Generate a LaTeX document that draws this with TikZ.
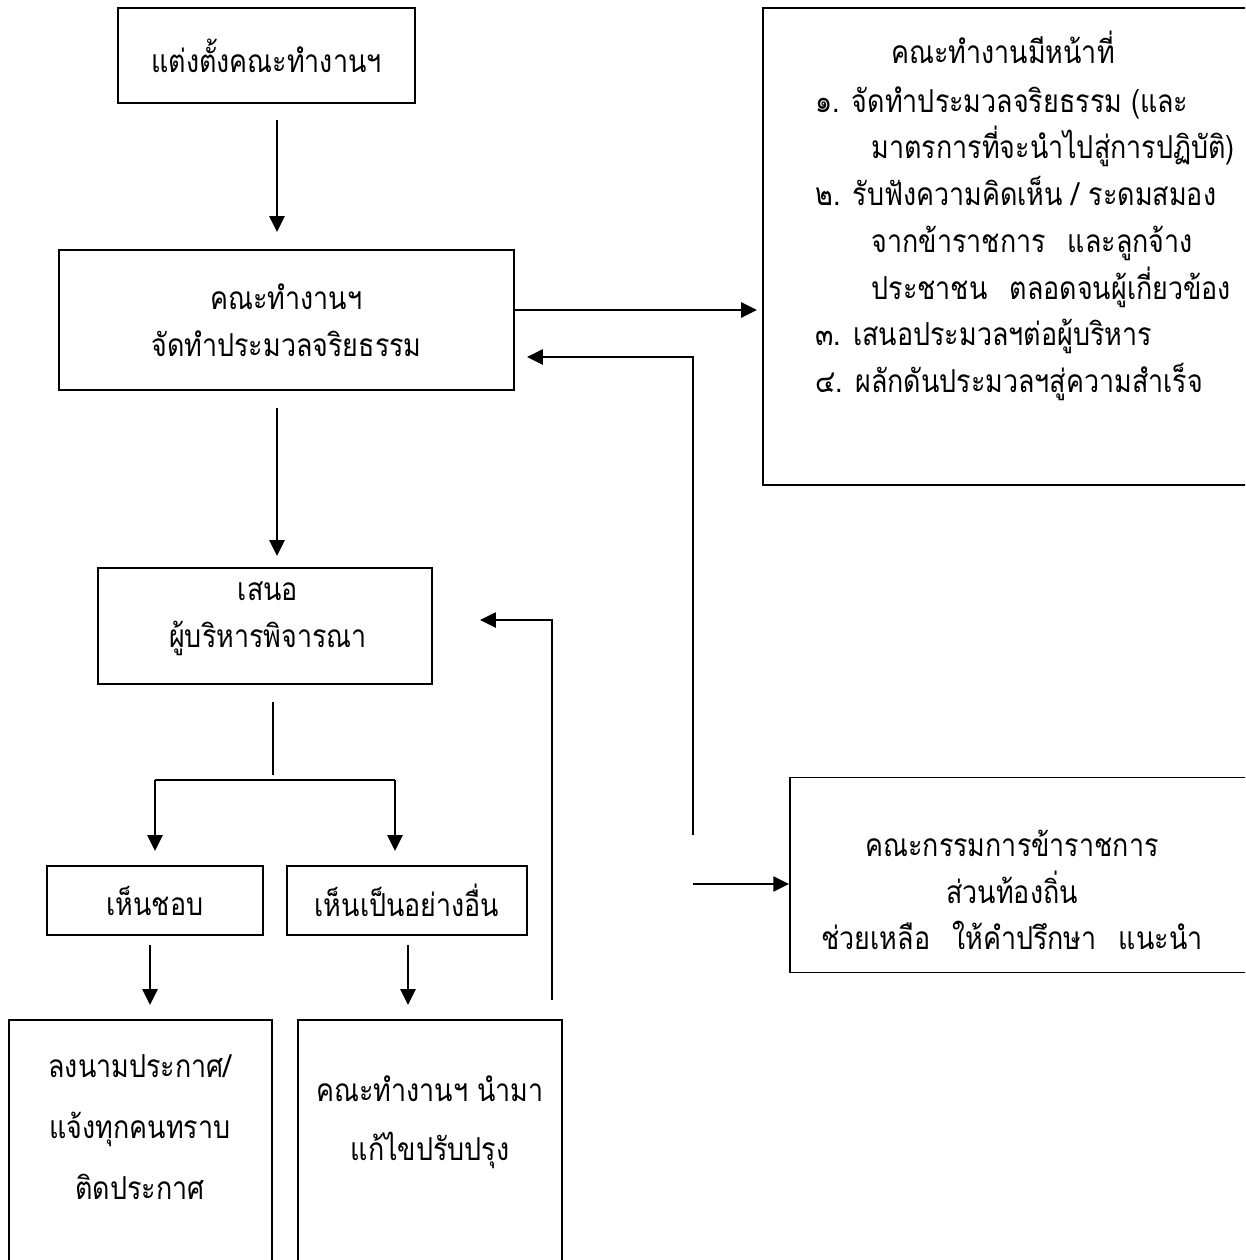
\documentclass[tikz,border=0pt]{standalone}
\usepackage{fontspec}
\newfontfamily\thaifont[Script=Thai,FakeStretch=0.85]{Loma}
\usetikzlibrary{arrows.meta}
\newcommand{\thaitext}{\thaifont\fontsize{18}{26.6}\selectfont}
\newcommand{\gap}{\hspace{0.7em}}
\tikzset{
  box/.style={draw, line width=1.1pt, inner sep=0pt, align=center, font=\thaitext},
  txt/.style={inner sep=0pt, align=center, font=\thaitext},
  conn/.style={line width=1.3pt, -{Triangle[length=9pt,width=8.5pt]}},
  plain/.style={line width=1.3pt}
}
\begin{document}
\begin{tikzpicture}[x=0.02cm,y=-0.02cm]
\useasboundingbox (0,0) rectangle (1245,1260);
\clip (0,0) rectangle (1245,1260);
\fill[white] (0,0) rectangle (1245,1260);
% boxes
\node[box, minimum width=5.94cm, minimum height=1.9cm] (appoint) at (266.5,55.5) {แต่งตั้งคณะทำงานฯ};
\node[box, minimum width=9.1cm, minimum height=2.8cm] (draft) at (286.5,320) {คณะทำงานฯ\\จัดทำประมวลจริยธรรม};
\node[box, minimum width=10.04cm, minimum height=9.54cm] (duties) at (1014,246.5) {};
\node[txt] (dutiestitle) at (1003,47) {คณะทำงานมีหน้าที่};
\node[txt, align=left, anchor=north west] (dutieslist) at (815,86) {%
๑. จัดทำประมวลจริยธรรม (และ\\
\hspace*{32pt}มาตรการที่จะนำไปสู่การปฏิบัติ)\\
๒. รับฟังความคิดเห็น / ระดมสมอง\\
\hspace*{32pt}จากข้าราชการ\gap และลูกจ้าง\\
\hspace*{32pt}ประชาชน\gap ตลอดจนผู้เกี่ยวข้อง\\
๓. เสนอประมวลฯต่อผู้บริหาร\\
๔. ผลักดันประมวลฯสู่ความสำเร็จ};
\node[box, minimum width=6.68cm, minimum height=2.32cm] (propose) at (265,626) {};
\node[txt] (proposetext) at (268,619) {เสนอ\\ผู้บริหารพิจารณา};
\node[box, minimum width=4.32cm, minimum height=1.38cm] (approve) at (155,900.5) {เห็นชอบ};
\node[box, minimum width=4.8cm, minimum height=1.38cm] (other) at (407,900.5) {เห็นเป็นอย่างอื่น};
\node[box, minimum width=5.26cm, minimum height=5.4cm] (announce) at (140.5,1155) {};
\node[txt] (announcetext) at (140,1127) {ลงนามประกาศ/\\[0.45em]แจ้งทุกคนทราบ\\[0.45em]ติดประกาศ};
\node[box, minimum width=5.28cm, minimum height=5.4cm] (revise) at (430,1155) {};
\node[txt] (revisetext) at (430,1122) {คณะทำงานฯ นำมา\\[0.4em]แก้ไขปรับปรุง};
\node[box, minimum width=9.5cm, minimum height=3.9cm] (committee) at (1027.5,875) {};
\node[txt] (committeetext) at (1012,890) {คณะกรรมการข้าราชการ\\ส่วนท้องถิ่น\\ช่วยเหลือ\gap ให้คำปรึกษา\gap แนะนำ};
% connector coordinates
\coordinate (a1s) at (277,120); \coordinate (a1e) at (277,232);
\coordinate (a2s) at (277,408); \coordinate (a2e) at (277,556);
\coordinate (a3e) at (757,310);
\coordinate (f1s) at (693,835); \coordinate (f1c) at (693,357); \coordinate (f1e) at (527,357);
\coordinate (a5s) at (693,884);
\coordinate (s1) at (273,702); \coordinate (s2) at (273,775);
\coordinate (bl) at (155,780); \coordinate (br) at (395,780);
\coordinate (ble) at (155,851); \coordinate (bre) at (395,851);
\coordinate (a7s) at (150,945); \coordinate (a7e) at (150,1005);
\coordinate (a8s) at (408,945); \coordinate (a8e) at (408,1005);
\coordinate (f2s) at (552,1000); \coordinate (f2c) at (552,620); \coordinate (f2e) at (480,620);
% connectors
\draw[conn] (a1s) -- (a1e);
\draw[conn] (a2s) -- (a2e);
\draw[conn] (draft.east |- a3e) -- (a3e);
\draw[conn] (f1s) -- (f1c) -- (f1e);
\draw[conn] (a5s) -- (committee.west |- a5s);
\draw[plain] (s1) -- (s2);
\draw[plain] (bl) -- (br);
\draw[conn] (bl) -- (ble);
\draw[conn] (br) -- (bre);
\draw[conn] (a7s) -- (a7e);
\draw[conn] (a8s) -- (a8e);
\draw[conn] (f2s) -- (f2c) -- (f2e);
\end{tikzpicture}
\end{document}
